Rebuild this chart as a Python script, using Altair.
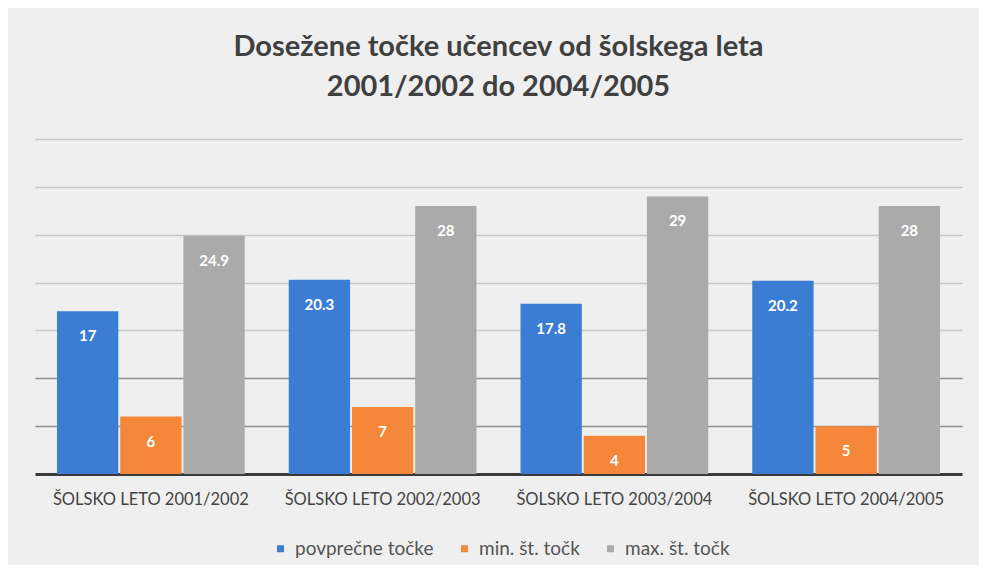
import altair as alt
import pandas as pd

categories = ["ŠOLSKO LETO 2001/2002", "ŠOLSKO LETO 2002/2003",
              "ŠOLSKO LETO 2003/2004", "ŠOLSKO LETO 2004/2005"]
series = ["povprečne točke", "min. št. točk", "max. št. točk"]
avg_points = [17, 20.3, 17.8, 20.2]
min_points = [6, 7, 4, 5]
max_points = [24.9, 28, 29, 28]
label_avg = ["17", "20.3", "17.8", "20.2"]
label_min = ["6", "7", "4", "5"]
label_max = ["24.9", "28", "29", "28"]
colors = ["#3A7DD3", "#F5873A", "#AAAAAA"]

rows = []
for vals, labs, s in [(avg_points, label_avg, series[0]),
                      (min_points, label_min, series[1]),
                      (max_points, label_max, series[2])]:
    for c, v, l in zip(categories, vals, labs):
        rows.append({"cat": c, "series": s, "value": v, "label": l})
df = pd.DataFrame(rows)

FONT = "Lato"

base = alt.Chart(df).encode(
    x=alt.X("cat:N", sort=categories, title=None,
            scale=alt.Scale(paddingInner=0.19, paddingOuter=0.095),
            axis=alt.Axis(labelAngle=0, labelFontSize=16.5, labelColor="#444444",
                          labelFont=FONT, ticks=False, domainColor="#3a3a3a",
                          domainWidth=3, labelPadding=17, grid=False,
                          labelLimit=400)),
    xOffset=alt.XOffset("series:N", sort=series,
                        scale=alt.Scale(paddingInner=0.03, paddingOuter=0)),
    y=alt.Y("value:Q", title=None,
            scale=alt.Scale(domain=[0, 35], nice=False),
            axis=alt.Axis(values=[5, 10, 15, 20, 25, 30, 35], labels=False,
                          ticks=False, domain=False, grid=True,
                          gridColor={"condition": {"test": "datum.value <= 10", "value": "#8e8e8e"},
                                     "value": "#c6c6c6"},
                          gridWidth=1.5)),
)

bars = base.mark_bar().encode(
    color=alt.Color("series:N", sort=series,
                    scale=alt.Scale(domain=series, range=colors),
                    legend=alt.Legend(title=None, orient="none", direction="horizontal",
                                      legendX=236, legendY=400, padding=0,
                                      symbolType="square", symbolSize=49,
                                      labelFontSize=19, labelColor="#555555",
                                      labelFont=FONT, columnPadding=21, labelOffset=5,
                                      symbolStrokeWidth=0))
)

texts = base.mark_text(color="white", fontWeight="bold", fontSize=15, dy=25,
                       font=FONT, baseline="middle").encode(text="label:N")

chart = alt.layer(bars, texts).properties(
    width=927, height=335,
    autosize=alt.AutoSizeParams(type="none"),
    padding={"left": 27, "right": 17, "top": 131, "bottom": 91},
    background="#efefef",
    title=alt.TitleParams(
        ["Dosežene točke učencev od šolskega leta", "2001/2002 do 2004/2005"],
        fontSize=29, font=FONT, fontWeight="bold", color="#404040",
        anchor="middle", lineHeight=40, offset=37),
).configure_view(stroke=None)

chart.save("out.html", embed_options={"renderer": "svg", "actions": False})
